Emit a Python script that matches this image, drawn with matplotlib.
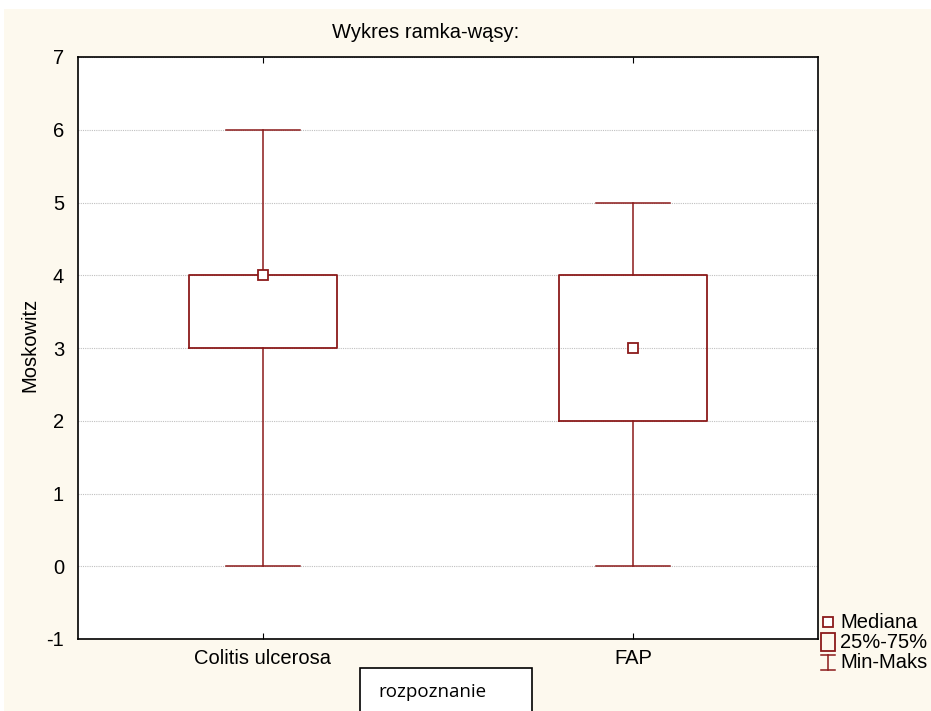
import matplotlib.pyplot as plt
from matplotlib.patches import Rectangle
from matplotlib.lines import Line2D

# dane wykresu ramka-wąsy
kategorie = ['Colitis ulcerosa', 'FAP']
minimum = [0, 0]
q1 = [3, 2]
mediana = [4, 3]
q3 = [4, 4]
maksimum = [6, 5]

kolor = '#8b1a1a'
tlo = '#fdf9ee'

plt.rcParams['font.family'] = ['Liberation Sans', 'DejaVu Sans']
plt.rcParams['axes.unicode_minus'] = False

fig = plt.figure(figsize=(9.31, 7.11), dpi=100)
fig.patch.set_facecolor('white')
# kremowe tło z białym marginesem u góry i z lewej
fig.add_artist(Rectangle((4 / 931, 0), 1, (711 - 9) / 711, transform=fig.transFigure,
                         facecolor=tlo, edgecolor='none', zorder=-10))

ax = fig.add_axes([78 / 931, 72 / 711, 740 / 931, 582 / 711])
ax.set_facecolor('white')

stats = []
for i, k in enumerate(kategorie):
    stats.append({'label': k, 'whislo': minimum[i], 'q1': q1[i], 'med': mediana[i],
                  'q3': q3[i], 'whishi': maksimum[i], 'fliers': []})

pozycje = list(range(len(kategorie)))
ax.bxp(stats, positions=pozycje, widths=0.4, showfliers=False,
       boxprops=dict(color=kolor, linewidth=1.3),
       whiskerprops=dict(color=kolor, linewidth=1.1),
       capprops=dict(color=kolor, linewidth=1.1),
       medianprops=dict(linewidth=0), capwidths=0.2)
ax.plot(pozycje, mediana, linestyle='none', marker='s', markersize=7,
        markerfacecolor='white', markeredgecolor=kolor, markeredgewidth=1.3, zorder=5)

ax.set_xlim(-0.5, 1.5)
ax.set_ylim(-1, 7)
ax.set_yticks(range(-1, 8))
ax.set_xticks(pozycje)
ax.set_xticklabels(kategorie)
ax.yaxis.grid(True, linestyle=(0, (1, 1)), color='#c0c0c0', linewidth=0.8)
ax.set_axisbelow(True)
ax.tick_params(axis='both', direction='in', length=4, labelsize=14.5, top=True, right=False)
ax.tick_params(axis='y', pad=10, length=0)
ax.tick_params(axis='x', pad=7)
for s in ax.spines.values():
    s.set_linewidth(1.2)
    s.set_color('black')

fig.text(426 / 931, 1 - 33 / 711, 'Wykres ramka-wąsy:', fontsize=14.5, ha='center', va='center')
fig.text(30 / 931, 1 - 345 / 711, 'Moskowitz', fontsize=14.5, ha='center', va='center',
         rotation=90)

# legenda
fig.add_artist(Line2D([828 / 931], [1 - 622 / 711], marker='s', markersize=7, linestyle='none',
                      markerfacecolor='white', markeredgecolor=kolor, markeredgewidth=1.3,
                      transform=fig.transFigure))
fig.add_artist(Rectangle((821 / 931, 1 - 651 / 711), 14 / 931, 18 / 711, transform=fig.transFigure,
                         facecolor='none', edgecolor=kolor, linewidth=1.3))
fig.add_artist(Line2D([828 / 931, 828 / 931], [1 - 670 / 711, 1 - 655 / 711], color=kolor,
                      linewidth=1.1, transform=fig.transFigure))
for yy in (655, 670):
    fig.add_artist(Line2D([821 / 931, 835 / 931], [1 - yy / 711, 1 - yy / 711], color=kolor,
                          linewidth=1.1, transform=fig.transFigure))
for txt, yy in (('Mediana', 622), ('25%-75%', 642), ('Min-Maks', 662)):
    fig.text(840 / 931, 1 - yy / 711, txt, fontsize=14.5, va='center', ha='left')

# pole z nazwą zmiennej grupującej
fig.add_artist(Rectangle((360 / 931, -0.01), 172 / 931, 0.01 + 43 / 711, transform=fig.transFigure,
                         facecolor='white', edgecolor='black', linewidth=1.2))
fig.text(378 / 931, 1 - 692 / 711, 'rozpoznanie', fontsize=13.5, va='center', ha='left',
         family=['Open Sans', 'DejaVu Sans'])

fig.savefig('out.png', dpi=100, facecolor=fig.get_facecolor())
